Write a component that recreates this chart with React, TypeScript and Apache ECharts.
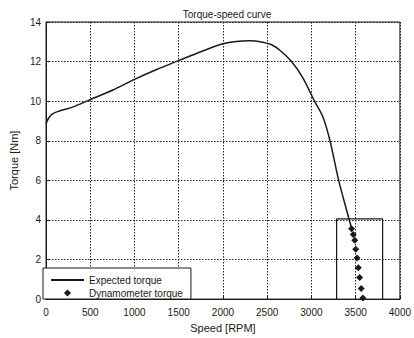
import React, { useEffect, useRef } from "react";
import * as echarts from "echarts";

// Expected torque-speed characteristic (speed in RPM, torque in Nm)
const expectedSpeed = [0, 30, 70, 150, 300, 500, 750, 1000, 1250, 1500, 1750, 2000, 2150, 2300, 2450, 2550, 2650, 2775, 2900, 3035, 3130, 3210, 3308, 3428, 3454];
const expectedTorque = [8.85, 9.15, 9.35, 9.5, 9.7, 10.08, 10.55, 11.1, 11.6, 12.05, 12.5, 12.9, 13.02, 13.05, 12.98, 12.85, 12.55, 12.0, 11.2, 10.0, 9.2, 8.0, 6.0, 4.0, 3.55];

// Dynamometer measurements
const dynoSpeed = [3454, 3472, 3490, 3501, 3516, 3530, 3545, 3563, 3582];
const dynoTorque = [3.55, 3.26, 2.97, 2.52, 2.08, 1.58, 1.09, 0.54, 0.05];

// Highlight box around the measured region
const boxSpeed = [3285, 3285, 3805, 3805];
const boxTorque = [0, 4.05, 4.05, 0];

const xTicks = { min: 0, max: 4000, interval: 500 };
const yTicks = { min: 0, max: 14, interval: 2 };

const FONT = "'Liberation Sans', Arial, Helvetica, sans-serif";
const INK = "#1a1a1a";

export default function App() {
  const ref = useRef<HTMLDivElement>(null);

  useEffect(() => {
    if (!ref.current) return;
    const chart = echarts.init(ref.current, null, { renderer: "svg" });

    const zip = (xs: number[], ys: number[]) => xs.map((x, i) => [x, ys[i]]);

    const axisCommon = {
      axisLine: { show: true, lineStyle: { color: INK, width: 1 } },
      axisTick: { show: true, inside: true, length: 3, lineStyle: { color: INK } },
      splitLine: { show: true, lineStyle: { color: "#222", width: 1, type: [1.5, 1.5] } },
      axisLabel: { color: INK, fontSize: 10, fontFamily: FONT, formatter: (v: number) => String(v) },
      nameTextStyle: { color: INK, fontSize: 11, fontFamily: FONT },
    };

    chart.setOption({
      animation: false,
      backgroundColor: "#fff",
      title: {
        text: "Torque-speed curve",
        left: 222,
        textAlign: "center",
        top: 4,
        textStyle: { color: INK, fontSize: 10, fontWeight: "normal", fontFamily: FONT },
      },
      grid: {
        left: 39,
        right: 9,
        top: 22,
        bottom: 33,
        show: true,
        borderColor: INK,
        borderWidth: 1,
        backgroundColor: "transparent",
      },
      legend: {
        left: 43,
        top: 268,
        orient: "vertical",
        backgroundColor: "#fff",
        borderColor: INK,
        borderWidth: 1,
        borderRadius: 0,
        padding: [7, 8, 1, 7],
        itemWidth: 33,
        itemHeight: 9,
        itemGap: 3,
        textStyle: { color: INK, fontSize: 10, fontFamily: FONT },
        data: [
          { name: "Expected torque", itemStyle: { opacity: 0 } },
          { name: "Dynamometer torque" },
        ],
      },
      xAxis: {
        type: "value",
        ...xTicks,
        name: "Speed [RPM]",
        nameLocation: "middle",
        nameGap: 19,
        ...axisCommon,
        axisLabel: { ...axisCommon.axisLabel, margin: 8 },
      },
      yAxis: {
        type: "value",
        ...yTicks,
        name: "Torque [Nm]",
        nameLocation: "middle",
        nameGap: 24,
        ...axisCommon,
        axisLabel: { ...axisCommon.axisLabel, margin: 5 },
      },
      series: [
        {
          name: "Expected torque",
          type: "line",
          data: zip(expectedSpeed, expectedTorque),
          smooth: 0.3,
          symbol: "none",
          lineStyle: { color: INK, width: 1.5 },
          itemStyle: { color: INK },
          z: 3,
        },
        {
          name: "Dynamometer torque",
          type: "line",
          data: zip(dynoSpeed, dynoTorque),
          symbol: "diamond",
          symbolSize: 7,
          lineStyle: { width: 0, opacity: 0 },
          itemStyle: { color: INK },
          z: 4,
        },
        {
          name: "box",
          type: "line",
          data: zip(boxSpeed, boxTorque),
          symbol: "none",
          lineStyle: { color: INK, width: 1.2 },
          silent: true,
          z: 2,
        },
      ],
    });

    return () => chart.dispose();
  }, []);

  return (
    <div
      ref={ref}
      style={{ position: "fixed", left: 0, top: 0, width: 414, height: 338, background: "#fff" }}
    />
  );
}
